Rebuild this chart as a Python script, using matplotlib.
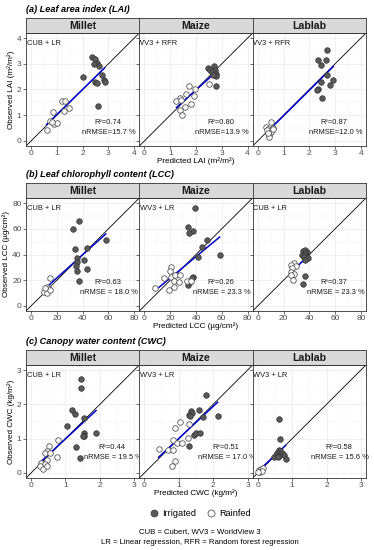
import numpy as np
import matplotlib
matplotlib.use("Agg")
import matplotlib.pyplot as plt
from matplotlib.lines import Line2D

plt.rcParams['font.family'] = ['Liberation Sans', 'DejaVu Sans']

# ---- data (predicted x, observed y) ----
crops = ["Millet", "Maize", "Lablab"]

# (a) LAI
lai_millet_irr_x = [2.37, 2.47, 2.54, 2.43, 2.64, 2.03, 2.76, 2.82, 2.49, 2.56, 2.85, 2.61]
lai_millet_irr_y = [3.26, 3.20, 3.04, 3.00, 2.91, 2.47, 2.58, 2.36, 2.28, 2.24, 2.28, 1.37]
lai_millet_rf_x = [0.60, 0.75, 0.85, 0.88, 0.99, 0.82, 1.20, 1.33, 1.45, 1.27]
lai_millet_rf_y = [0.41, 0.76, 1.11, 0.64, 0.70, 0.73, 1.55, 1.57, 1.29, 1.16]
lai_maize_irr_x = [2.46, 2.56, 2.69, 2.72, 2.61, 2.76, 2.78, 2.65, 2.76]
lai_maize_irr_y = [2.83, 2.77, 2.91, 2.74, 2.68, 2.59, 2.52, 2.55, 2.12]
lai_maize_rf_x = [1.72, 1.95, 1.63, 1.94, 1.37, 1.24, 1.42, 1.57, 1.79, 1.37, 1.44, 2.50]
lai_maize_rf_y = [2.12, 2.03, 1.81, 1.73, 1.68, 1.55, 1.58, 1.32, 1.42, 1.19, 1.02, 2.20]
lai_lablab_irr_x = [2.67, 2.32, 2.63, 2.45, 2.68, 2.45, 2.93, 2.80, 2.32, 2.28, 2.51]
lai_lablab_irr_y = [3.55, 3.16, 3.13, 2.96, 2.55, 2.29, 2.36, 2.16, 2.03, 1.99, 1.68]
lai_lablab_rf_x = [0.31, 0.52, 0.40, 0.60, 0.34, 0.50, 0.58, 0.43, 0.45, 0.38]
lai_lablab_rf_y = [0.55, 0.72, 0.48, 0.52, 0.41, 0.35, 0.45, 0.22, 0.15, 0.30]

# (b) LCC
lcc_millet_irr_x = [36.8, 32.6, 34.4, 43.0, 58.0, 35.5, 41.4, 35.5, 35.2, 35.7, 43.0, 36.8]
lcc_millet_irr_y = [65.7, 59.5, 44.2, 44.9, 51.2, 37.1, 35.8, 34.5, 31.2, 27.5, 28.8, 19.5]
lcc_millet_rf_x = [15.0, 12.0, 13.0, 14.0, 10.0, 12.0, 15.0, 11.0]
lcc_millet_rf_y = [21.5, 15.0, 12.0, 13.0, 11.0, 10.0, 12.5, 14.0]
lcc_maize_irr_x = [39.4, 34.0, 37.8, 34.4, 48.2, 44.5, 58.3, 41.9, 37.5, 37.0, 33.7, 35.0]
lcc_maize_irr_y = [76.6, 61.6, 58.4, 57.1, 51.2, 45.5, 39.7, 38.2, 22.6, 21.6, 16.4, 18.2]
lcc_maize_rf_x = [20.2, 19.7, 14.8, 20.2, 23.8, 27.5, 22.8, 26.9, 8.5, 18.9, 23.3, 33.1, 36.2]
lcc_maize_rf_y = [30.4, 26.8, 21.6, 22.1, 23.9, 23.9, 19.5, 18.2, 14.3, 12.2, 14.8, 19.0, 19.5]
lcc_lablab_irr_x = [35.0, 37.0, 38.3, 36.5, 34.4, 37.0, 38.3, 35.7, 39.1, 37.0, 37.0, 35.0]
lcc_lablab_irr_y = [42.6, 43.4, 42.1, 40.8, 40.0, 39.5, 38.2, 38.2, 36.9, 35.6, 23.4, 17.4]
lcc_lablab_rf_x = [28.0, 26.1, 29.3, 26.7, 25.4, 28.0, 26.1, 27.2]
lcc_lablab_rf_y = [33.0, 31.7, 31.2, 29.1, 26.5, 25.2, 23.9, 20.5]

# (c) CWC
cwc_millet_irr_x = [1.45, 1.46, 1.20, 1.29, 1.55, 1.03, 1.89, 1.55, 1.55, 1.50, 1.32, 1.42]
cwc_millet_irr_y = [2.74, 2.48, 1.85, 1.72, 1.59, 1.38, 1.15, 1.15, 1.09, 1.07, 0.76, 0.42]
cwc_millet_rf_x = [0.79, 0.53, 0.45, 0.40, 0.55, 0.74, 0.47, 0.30, 0.40, 0.25, 0.35, 0.47]
cwc_millet_rf_y = [0.95, 0.78, 0.64, 0.59, 0.59, 0.46, 0.37, 0.30, 0.25, 0.20, 0.11, 0.20]
cwc_maize_irr_x = [1.79, 1.35, 1.38, 1.29, 1.33, 1.58, 1.69, 2.13, 1.43, 1.50, 1.61, 1.29]
cwc_maize_irr_y = [2.27, 1.80, 1.75, 1.70, 1.67, 1.83, 1.64, 1.67, 1.12, 1.15, 1.17, 0.78]
cwc_maize_rf_x = [1.04, 0.88, 1.30, 1.27, 0.83, 0.94, 1.09, 0.41, 0.68, 0.83, 0.88, 0.80]
cwc_maize_rf_y = [1.48, 1.30, 1.43, 1.03, 0.95, 0.88, 0.88, 0.71, 0.67, 0.67, 0.35, 0.20]
cwc_lablab_irr_x = [0.61, 0.66, 0.61, 0.66, 0.56, 0.71, 0.52, 0.76, 0.47, 0.81, 0.63, 0.59]
cwc_lablab_irr_y = [1.56, 0.98, 0.67, 0.64, 0.59, 0.57, 0.51, 0.51, 0.47, 0.40, 0.49, 0.45]
cwc_lablab_rf_x = [0.02, 0.08, 0.16, 0.05, 0.12, 0.00]
cwc_lablab_rf_y = [0.08, 0.12, 0.14, 0.03, 0.05, 0.02]

titles = ["(a) Leaf area index (LAI)", "(b) Leaf chlorophyll content (LCC)",
          "(c) Canopy water content (CWC)"]
ylabels = ["Observed LAI (m²/m²)", "Observed LCC (µg/cm²)", "Observed CWC (kg/m²)"]
xlabels = ["Predicted LAI (m²/m²)", "Predicted LCC (µg/cm²)", "Predicted CWC (kg/m²)"]
limits = [(-0.2, 4.2), (-4, 84), (-0.15, 3.15)]
ticks = [[0, 1, 2, 3, 4], [0, 20, 40, 60, 80], [0, 1, 2, 3]]
methods = [["CUB + LR", "WV3 + RFR", "WV3 + RFR"],
           ["CUB + LR", "WV3 + LR", "CUB + LR"],
           ["CUB + LR", "WV3 + LR", "WV3 + LR"]]
r2 = [["0.74", "0.80", "0.87"], ["0.63", "0.26", "0.37"], ["0.44", "0.51", "0.58"]]
nrmse = [["15.7", "13.9", "12.0"], ["18.0", "23.3", "23.3"], ["19.5", "17.0", "15.6"]]

data = [
    [(lai_millet_irr_x, lai_millet_irr_y, lai_millet_rf_x, lai_millet_rf_y),
     (lai_maize_irr_x, lai_maize_irr_y, lai_maize_rf_x, lai_maize_rf_y),
     (lai_lablab_irr_x, lai_lablab_irr_y, lai_lablab_rf_x, lai_lablab_rf_y)],
    [(lcc_millet_irr_x, lcc_millet_irr_y, lcc_millet_rf_x, lcc_millet_rf_y),
     (lcc_maize_irr_x, lcc_maize_irr_y, lcc_maize_rf_x, lcc_maize_rf_y),
     (lcc_lablab_irr_x, lcc_lablab_irr_y, lcc_lablab_rf_x, lcc_lablab_rf_y)],
    [(cwc_millet_irr_x, cwc_millet_irr_y, cwc_millet_rf_x, cwc_millet_rf_y),
     (cwc_maize_irr_x, cwc_maize_irr_y, cwc_maize_rf_x, cwc_maize_rf_y),
     (cwc_lablab_irr_x, cwc_lablab_irr_y, cwc_lablab_rf_x, cwc_lablab_rf_y)],
]

W, H = 374, 550
fig = plt.figure(figsize=(W / 100, H / 100), dpi=100)

left_px = 26
pw = 340 / 3
ph = 113
strip_h = 15.5
tops = [33, 198, 365]
title_y = [10, 175, 342]
ylab_x = [11, 6, 11]

irr_col = "#595959"
edge = "#333333"

for r in range(3):
    fig.text(left_px / W, 1 - title_y[r] / H, titles[r], fontsize=6.6,
             fontweight="bold", fontstyle="italic", ha="left", va="center")
    lo, hi = limits[r]
    for c in range(3):
        x0 = (left_px + c * pw) / W
        y0 = 1 - (tops[r] + ph) / H
        ax = fig.add_axes([x0, y0, pw / W, ph / H])
        # strip
        sax = fig.add_axes([x0, 1 - tops[r] / H, pw / W, strip_h / H])
        sax.set_facecolor("#D9D9D9")
        sax.set_xticks([])
        sax.set_yticks([])
        for s in sax.spines.values():
            s.set_color("#333333")
            s.set_linewidth(0.6)
        sax.text(0.5, 0.45, crops[c], fontsize=7.6, fontweight="bold",
                 ha="center", va="center", color="#1A1A1A")

        ix, iy, rx, ry = data[r][c]
        ax.set_xlim(lo, hi)
        ax.set_ylim(lo, hi)
        ax.set_xticks(ticks[r])
        ax.set_yticks(ticks[r])
        step = ticks[r][1] - ticks[r][0]
        ax.set_xticks(np.arange(ticks[r][0] + step / 2, ticks[r][-1], step), minor=True)
        ax.set_yticks(np.arange(ticks[r][0] + step / 2, ticks[r][-1], step), minor=True)
        ax.grid(which="major", color="#EBEBEB", lw=0.5)
        ax.grid(which="minor", color="#F5F5F5", lw=0.3)
        ax.set_axisbelow(True)
        ax.tick_params(which="minor", length=0)
        ax.tick_params(which="major", length=2, width=0.5, color="#333333",
                       labelsize=6.0, labelcolor="#4D4D4D", pad=1.2)
        if c > 0:
            ax.tick_params(labelleft=False)
        for s in ax.spines.values():
            s.set_color("#333333")
            s.set_linewidth(0.6)

        ax.axline((0, 0), slope=1, color="black", lw=0.6, zorder=2)
        allx = np.array(ix + rx)
        ally = np.array(iy + ry)
        k, b = np.polyfit(allx, ally, 1)
        xs = np.array([allx.min(), allx.max()])
        ax.plot(xs, k * xs + b, color="#0000CC", lw=1.1, zorder=3)

        ax.scatter(ix, iy, s=16, facecolor=irr_col, edgecolor=edge, lw=0.5, zorder=4)
        ax.scatter(rx, ry, s=16, facecolor="white", edgecolor="#555555", lw=0.6, zorder=4)

        ax.text(0.155, 0.905, methods[r][c], transform=ax.transAxes, fontsize=5.4,
                ha="center", va="center", color="#1A1A1A", clip_on=True)
        sep = "=" if r == 0 else " = "
        rx_pos = 0.72 if r < 2 else 0.76
        ry_pos = [0.205, 0.255, 0.27][r]
        ax.text(rx_pos, ry_pos, "R²=" + r2[r][c], transform=ax.transAxes,
                fontsize=5.4, ha="center", va="center", color="#1A1A1A")
        ax.text(rx_pos + 0.01, ry_pos - 0.087, "nRMSE" + sep + nrmse[r][c] + " %",
                transform=ax.transAxes, fontsize=5.4, ha="center", va="center",
                color="#1A1A1A")

    fig.text(ylab_x[r] / W, 1 - (tops[r] + ph / 2) / H, ylabels[r], rotation=90,
             fontsize=5.9, ha="center", va="center")
    fig.text((left_px + 170) / W, 1 - (tops[r] + ph + 15) / H, xlabels[r],
             fontsize=5.9, ha="center", va="center")

handles = [Line2D([], [], ls="none", marker="o", ms=5, mfc=irr_col, mec=edge, mew=0.5),
           Line2D([], [], ls="none", marker="o", ms=5, mfc="white", mec="#555555", mew=0.6)]
fig.legend(handles, ["Irrigated", "Rainfed"], ncol=2, frameon=False,
           loc="center", bbox_to_anchor=(200 / W, 1 - 514 / H), fontsize=6.6,
           handletextpad=0.3, columnspacing=1.0, handlelength=1.2)

fig.text(200 / W, 1 - 532 / H, "CUB = Cubert, WV3 = WorldView 3", fontsize=5.6,
         ha="center", va="center")
fig.text(200 / W, 1 - 543 / H, "LR = Linear regression, RFR = Random forest regression",
         fontsize=5.6, ha="center", va="center")

fig.savefig("out.png", dpi=100)
